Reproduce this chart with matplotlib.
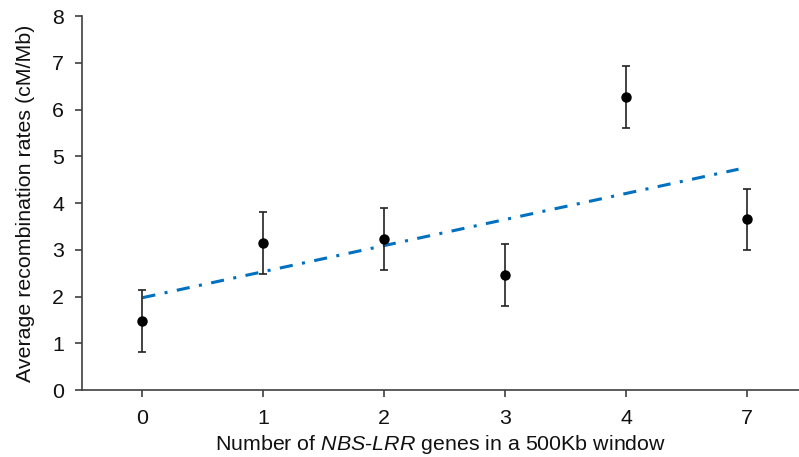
import numpy as np
import matplotlib.pyplot as plt

plt.rcParams['font.family'] = ['Liberation Sans', 'DejaVu Sans']
plt.rcParams['mathtext.fontset'] = 'custom'
plt.rcParams['mathtext.rm'] = 'Liberation Sans'
plt.rcParams['mathtext.it'] = 'Liberation Sans:italic'

# data
categories = ['0', '1', '2', '3', '4', '7']
rates = [1.47, 3.14, 3.23, 2.46, 6.27, 3.65]
errors = [0.66, 0.66, 0.66, 0.66, 0.66, 0.66]
y_ticks = [0, 1, 2, 3, 4, 5, 6, 7, 8]

x = np.arange(len(categories))

fig = plt.figure(figsize=(7.99, 4.57), dpi=100)
ax = fig.add_axes([0.1026, 0.1466, 0.8974, 0.818])

axis_col = '#404040'
fs = 15.4

# linear trendline fitted to the category index
slope, intercept = np.polyfit(x, rates, 1)
x_fit = np.array([0, len(x) - 1.07])
line, = ax.plot(x_fit, slope * x_fit + intercept, color='#0070C0', lw=2.2,
                solid_capstyle='butt', dash_capstyle='butt', zorder=2)
line.set_dashes((4.3, 3.1, 1.0, 3.1))

ax.errorbar(x, rates, yerr=errors, fmt='o', color='black', ecolor='#222222',
            elinewidth=1.2, capsize=3.2, capthick=1.2, markersize=6.5, zorder=3)

ax.set_xlim(-0.5, 5.43)
ax.set_ylim(0, 8)
ax.set_xticks(x)
ax.set_xticklabels(categories)
ax.set_yticks(y_ticks)

for s in ['top', 'right']:
    ax.spines[s].set_visible(False)
for s in ['left', 'bottom']:
    ax.spines[s].set_color(axis_col)
    ax.spines[s].set_linewidth(1.2)

ax.tick_params(axis='both', direction='out', length=5, width=1.2, color=axis_col,
               labelsize=fs, labelcolor='#111111')
ax.tick_params(axis='x', pad=9)
ax.tick_params(axis='y', pad=8)

ax.set_xlabel('Number of $\\it{NBS}$-$\\it{LRR}$ genes in a 500Kb window',
              fontsize=fs, color='#111111', labelpad=3)
ax.set_ylabel('Average recombination rates (cM/Mb)', fontsize=fs,
              color='#111111', labelpad=12)

plt.savefig('out.png', dpi=100)
